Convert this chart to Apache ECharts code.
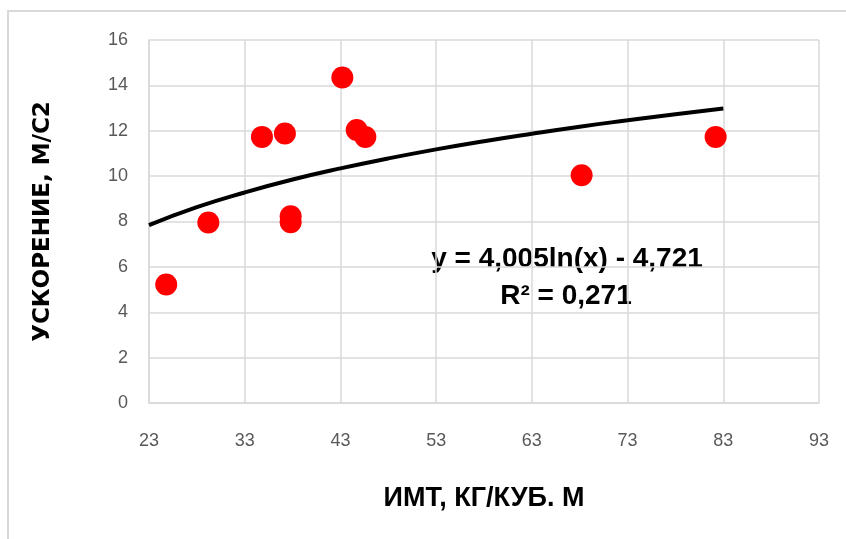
<!DOCTYPE html>
<html>
<head>
<meta charset="utf-8">
<script src="https://cdn.jsdelivr.net/npm/echarts@6/dist/echarts.min.js"></script>
<style>
  html, body { margin: 0; padding: 0; background: #fff; }
  #chart_1 { width: 846px; height: 539px; }
</style>
</head>
<body>
<div id="chart_1"></div>
<script>
// ИМТ (x) и ускорение (y)
var bmi = [24.8, 29.2, 34.8, 37.2, 37.8, 37.8, 43.2, 44.7, 45.6, 68.2, 82.2];
var accel = [5.22, 7.96, 11.73, 11.88, 8.23, 7.97, 14.35, 12.03, 11.73, 10.04, 11.73];
// линия тренда, точки
var trendX = [23, 28, 33, 38, 43, 48, 53, 58, 63, 68, 73, 78, 83];
var trendY = [7.84, 8.63, 9.28, 9.85, 10.34, 10.78, 11.18, 11.54, 11.87, 12.18, 12.46, 12.73, 12.98];
var xTicks = [23, 33, 43, 53, 63, 73, 83, 93];
var yTicks = [0, 2, 4, 6, 8, 10, 12, 14, 16];

var pts = bmi.map(function (v, i) { return [v, accel[i]]; });
var trend = trendX.map(function (v, i) { return [v, trendY[i]]; });
var fontLab = '"Liberation Sans", Arial, sans-serif';

var myChart1 = echarts.init(document.getElementById('chart_1'));
var option1 = {
    animation: false,
    backgroundColor: '#fff',
    grid: { left: 149, top: 40, width: 670, height: 363 },
    graphic: [
        {
            type: 'rect',
            shape: { x: 8, y: 11, width: 860, height: 560 },
            style: { fill: 'none', stroke: '#d9d9d9', lineWidth: 2 }
        },
        {
            type: 'text',
            style: {
                text: 'y = 4,005ln(x) - 4,721',
                x: 567, y: 259, align: 'center', verticalAlign: 'middle',
                font: 'bold 28px ' + fontLab, fill: '#000'
            }
        },
        {
            type: 'text',
            style: {
                text: 'R² = 0,271',
                x: 566, y: 296, align: 'center', verticalAlign: 'middle',
                font: 'bold 28px ' + fontLab, fill: '#000'
            }
        }
    ],
    xAxis: {
        type: 'value',
        min: xTicks[0], max: xTicks[xTicks.length - 1], interval: 10,
        name: 'ИМТ, КГ/КУБ. М',
        nameLocation: 'middle', nameGap: 82,
        nameTextStyle: { fontSize: 27, fontWeight: 'bold', color: '#000', fontFamily: fontLab },
        axisLine: { lineStyle: { color: '#d9d9d9', width: 1.5 } },
        axisTick: { show: false },
        axisLabel: { color: '#595959', fontSize: 18, margin: 29, fontFamily: fontLab },
        splitLine: { show: true, lineStyle: { color: '#d9d9d9', width: 1.5 } }
    },
    yAxis: {
        type: 'value',
        min: yTicks[0], max: yTicks[yTicks.length - 1], interval: 2,
        name: 'УСКОРЕНИЕ, М/С2',
        nameLocation: 'middle', nameGap: 94,
        nameTextStyle: { fontSize: 23, fontWeight: 'bold', color: '#000', fontFamily: '"DejaVu Sans", sans-serif' },
        axisLine: { show: true, lineStyle: { color: '#d9d9d9', width: 1.5 } },
        axisTick: { show: false },
        axisLabel: { color: '#595959', fontSize: 18, margin: 21, fontFamily: fontLab },
        splitLine: { show: true, lineStyle: { color: '#d9d9d9', width: 1.5 } }
    },
    series: [
        {
            name: 'тренд',
            type: 'line',
            data: trend,
            smooth: true,
            symbol: 'none',
            lineStyle: { color: '#000', width: 4 },
            z: 2
        },
        {
            name: 'данные',
            type: 'scatter',
            data: pts,
            symbolSize: 22,
            itemStyle: { color: '#ff0000', opacity: 1 },
            z: 3
        }
    ]
};
myChart1.setOption(option1);
</script>
</body>
</html>
